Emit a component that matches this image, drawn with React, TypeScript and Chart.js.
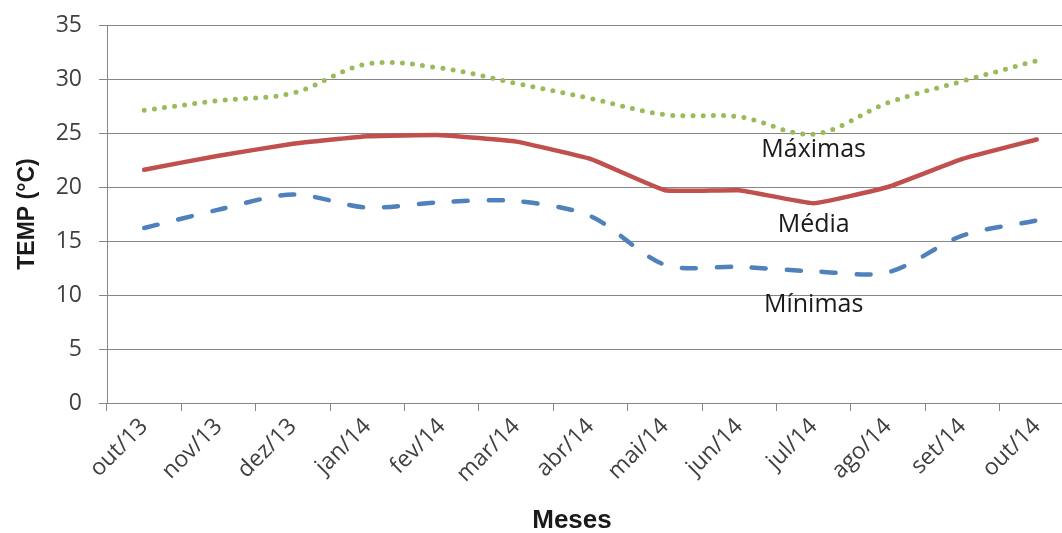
import React, { useEffect, useRef } from "react";
import { Chart, registerables } from "chart.js";

Chart.register(...registerables);

const months = ["out/13", "nov/13", "dez/13", "jan/14", "fev/14", "mar/14", "abr/14", "mai/14", "jun/14", "jul/14", "ago/14", "set/14", "out/14"];
const maximas = [27.1, 28.0, 28.7, 31.4, 31.0, 29.6, 28.2, 26.7, 26.5, 24.9, 27.8, 29.8, 31.7];
const media = [21.6, 22.9, 24.0, 24.7, 24.8, 24.2, 22.6, 19.7, 19.7, 18.5, 20.0, 22.6, 24.4];
const minimas = [16.2, 17.9, 19.3, 18.1, 18.6, 18.7, 17.3, 12.8, 12.6, 12.2, 12.1, 15.5, 16.9];
const yMin = 0;
const yMax = 35;
const yStep = 5;

const seriesNames = ["Máximas", "Média", "Mínimas"];
const labelMonthIndex = [9, 9, 9];
const labelValues = [23.4, 16.5, 9.1];
const xTitle = "Meses";
const yTitle = "TEMP (°C)";

const tickFont = "'Open Sans', sans-serif";
const titleFont = "'Liberation Sans', Arial, sans-serif";

const textPlugin = {
  id: "seriesLabels",
  afterDatasetsDraw(chart: any) {
    const ctx = chart.ctx;
    const xs = chart.scales.x;
    const ys = chart.scales.y;
    ctx.save();
    ctx.font = `25px ${tickFont}`;
    ctx.fillStyle = "#1a1a1a";
    ctx.textAlign = "center";
    ctx.textBaseline = "middle";
    seriesNames.forEach((name, i) => {
      ctx.fillText(name, xs.getPixelForValue(labelMonthIndex[i]), ys.getPixelForValue(labelValues[i]));
    });
    ctx.font = `bold 26px ${titleFont}`;
    ctx.fillText(xTitle, 572, 521);
    ctx.restore();
  },
};

export default function App() {
  const ref = useRef<HTMLCanvasElement | null>(null);
  useEffect(() => {
    if (!ref.current) return;
    const chart = new Chart(ref.current, {
      type: "line",
      data: {
        labels: months,
        datasets: [
          {
            label: seriesNames[0],
            data: maximas,
            borderColor: "#9BBB59",
            borderWidth: 5,
            borderDash: [0, 10.2],
            borderCapStyle: "round",
            borderJoinStyle: "round",
            tension: 0.35,
            pointRadius: 0,
            fill: false,
          },
          {
            label: seriesNames[1],
            data: media,
            borderColor: "#C0504D",
            borderWidth: 4.5,
            borderCapStyle: "round",
            borderJoinStyle: "round",
            tension: 0.1,
            pointRadius: 0,
            fill: false,
          },
          {
            label: seriesNames[2],
            data: minimas,
            borderColor: "#4F81BD",
            borderWidth: 4.5,
            borderDash: [14, 21],
            borderCapStyle: "round",
            borderJoinStyle: "round",
            tension: 0.3,
            pointRadius: 0,
            fill: false,
          },
        ],
      },
      options: {
        animation: false,
        responsive: false,
        maintainAspectRatio: false,
        layout: { padding: { left: 8, top: 25, right: 6, bottom: 0 } },
        plugins: { legend: { display: false }, tooltip: { enabled: false } },
        scales: {
          x: {
            offset: true,
            grid: { offset: true, drawOnChartArea: false, drawTicks: true, tickLength: 8, color: "#868686" },
            border: { color: "#868686", width: 1 },
            ticks: {
              minRotation: 45,
              maxRotation: 45,
              autoSkip: false,
              padding: 2,
              color: "#404040",
              font: { family: tickFont, size: 23 },
            },
            title: { display: false, text: xTitle },
            afterFit(scale: any) {
              scale.height = 130;
            },
          },
          y: {
            min: yMin,
            max: yMax,
            ticks: {
              stepSize: yStep,
              padding: 17,
              color: "#404040",
              font: { family: tickFont, size: 23 },
            },
            grid: { color: "#868686", lineWidth: 1, tickLength: 8 },
            border: { color: "#868686", width: 1 },
            title: {
              display: true,
              text: yTitle,
              color: "#1a1a1a",
              font: { family: titleFont, size: 23, weight: "bold" },
              padding: { top: 6, bottom: 0 },
            },
            afterFit(scale: any) {
              scale.width = 99;
              scale.paddingTop = 0;
              scale.paddingBottom = 0;
            },
          },
        },
      },
      plugins: [textPlugin],
    });
    return () => chart.destroy();
  }, []);

  return (
    <div style={{ position: "absolute", left: 0, top: 0, width: 1062, height: 533, overflow: "hidden", background: "#fff" }}>
      <canvas ref={ref} width={1080} height={533} style={{ display: "block", width: 1080, height: 533 }} />
    </div>
  );
}
